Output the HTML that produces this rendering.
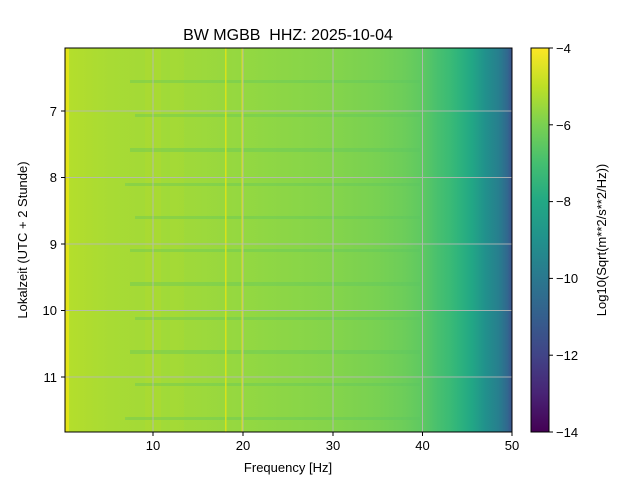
<!DOCTYPE html>
<html><head><meta charset="utf-8"><style>
html,body{margin:0;padding:0;background:#fff;}
svg{display:block;font-family:"Liberation Sans","DejaVu Sans",sans-serif;}
</style></head><body>
<svg width="640" height="480" viewBox="0 0 640 480" xmlns="http://www.w3.org/2000/svg">
<defs>
<linearGradient id="g" x1="65" x2="512" y1="0" y2="0" gradientUnits="userSpaceOnUse">
<stop offset="0" stop-color="#b5de2b"/>
<stop offset="0.1" stop-color="#a8db34"/>
<stop offset="0.2" stop-color="#a2da37"/>
<stop offset="0.3" stop-color="#9dd93b"/>
<stop offset="0.45" stop-color="#8fd744"/>
<stop offset="0.6" stop-color="#84d44b"/>
<stop offset="0.7" stop-color="#78d152"/>
<stop offset="0.76" stop-color="#6ccd5a"/>
<stop offset="0.8" stop-color="#5ec962"/>
<stop offset="0.83" stop-color="#4ac16d"/>
<stop offset="0.86" stop-color="#3bbb75"/>
<stop offset="0.88" stop-color="#2fb47c"/>
<stop offset="0.91" stop-color="#22a785"/>
<stop offset="0.94" stop-color="#21918c"/>
<stop offset="0.97" stop-color="#277f8e"/>
<stop offset="0.99" stop-color="#31688e"/>
<stop offset="1" stop-color="#3b528b"/>
</linearGradient>
<linearGradient id="cb" x1="0" x2="0" y1="432" y2="48" gradientUnits="userSpaceOnUse">
<stop offset="0" stop-color="#440154"/>
<stop offset="0.1" stop-color="#482475"/>
<stop offset="0.2" stop-color="#414487"/>
<stop offset="0.3" stop-color="#355f8d"/>
<stop offset="0.4" stop-color="#2a788e"/>
<stop offset="0.5" stop-color="#21918c"/>
<stop offset="0.6" stop-color="#22a884"/>
<stop offset="0.7" stop-color="#44bf70"/>
<stop offset="0.8" stop-color="#7ad151"/>
<stop offset="0.9" stop-color="#bddf26"/>
<stop offset="1" stop-color="#fde725"/>
</linearGradient>
</defs>
<text x="288" y="40" font-size="16" text-anchor="middle">BW MGBB&#160; HHZ: 2025-10-04</text>
<rect x="65" y="48" width="447" height="384" fill="url(#g)"/>
<rect x="65" y="48" width="4" height="384" fill="#e2e418"/>
<rect x="145" y="48" width="16" height="384" fill="#c8e020" opacity="0.18"/>
<rect x="170" y="48" width="14" height="384" fill="#c8e020" opacity="0.12"/>
<g fill="#5bc663" opacity="0.35">
<rect x="130" y="80" width="290" height="3"/>
<rect x="135" y="114" width="285" height="3"/>
<rect x="130" y="148" width="290" height="4"/>
<rect x="125" y="183" width="295" height="3"/>
<rect x="135" y="216" width="285" height="3"/>
<rect x="130" y="249" width="290" height="3"/>
<rect x="130" y="282" width="290" height="4"/>
<rect x="135" y="317" width="285" height="3"/>
<rect x="130" y="350" width="290" height="4"/>
<rect x="135" y="383" width="285" height="3"/>
<rect x="125" y="417" width="295" height="3"/>
</g>
<rect x="225" y="48" width="1.5" height="384" fill="#d8e219"/>
<rect x="241.5" y="48" width="1.5" height="384" fill="#d8e219"/>
<g stroke="#b8b8b8" stroke-width="1" opacity="0.85">
<line x1="153" y1="48" x2="153" y2="432"/>
<line x1="243" y1="48" x2="243" y2="432"/>
<line x1="333" y1="48" x2="333" y2="432"/>
<line x1="422.5" y1="48" x2="422.5" y2="432"/>
<line x1="65" y1="111" x2="512" y2="111"/>
<line x1="65" y1="177.5" x2="512" y2="177.5"/>
<line x1="65" y1="244" x2="512" y2="244"/>
<line x1="65" y1="310.5" x2="512" y2="310.5"/>
<line x1="65" y1="377" x2="512" y2="377"/>
</g>
<rect x="65" y="48" width="447" height="384" fill="none" stroke="#000" stroke-width="1"/>
<g stroke="#000">
<line x1="153" y1="432" x2="153" y2="436"/><line x1="243" y1="432" x2="243" y2="436"/>
<line x1="333" y1="432" x2="333" y2="436"/><line x1="422.5" y1="432" x2="422.5" y2="436"/>
<line x1="512" y1="432" x2="512" y2="436"/>
<line x1="61" y1="111" x2="65" y2="111"/><line x1="61" y1="177.5" x2="65" y2="177.5"/>
<line x1="61" y1="244" x2="65" y2="244"/><line x1="61" y1="310.5" x2="65" y2="310.5"/>
<line x1="61" y1="377" x2="65" y2="377"/>
</g>
<g font-size="13" text-anchor="middle">
<text x="153" y="450">10</text><text x="243" y="450">20</text><text x="333" y="450">30</text>
<text x="422.5" y="450">40</text><text x="512" y="450">50</text>
<text x="288" y="472">Frequency [Hz]</text>
</g>
<g font-size="13" text-anchor="end">
<text x="57" y="116">7</text><text x="57" y="182">8</text><text x="57" y="249">9</text>
<text x="57" y="315">10</text><text x="57" y="382">11</text>
</g>
<text transform="translate(27,240) rotate(-90)" font-size="13" text-anchor="middle">Lokalzeit (UTC + 2 Stunde)</text>
<rect x="531" y="48" width="18" height="384" fill="url(#cb)" stroke="#000" stroke-width="1"/>
<g stroke="#000">
<line x1="549" y1="48" x2="553" y2="48"/><line x1="549" y1="124.8" x2="553" y2="124.8"/>
<line x1="549" y1="201.6" x2="553" y2="201.6"/><line x1="549" y1="278.4" x2="553" y2="278.4"/>
<line x1="549" y1="355.2" x2="553" y2="355.2"/><line x1="549" y1="432" x2="553" y2="432"/>
</g>
<g font-size="13">
<text x="556" y="53">−4</text><text x="556" y="130">−6</text><text x="556" y="206">−8</text>
<text x="556" y="283">−10</text><text x="556" y="360">−12</text><text x="556" y="437">−14</text>
</g>
<text transform="translate(606,240) rotate(-90)" font-size="13" text-anchor="middle">Log10(Sqrt(m**2/s**2/Hz))</text>
</svg>
</body></html>
